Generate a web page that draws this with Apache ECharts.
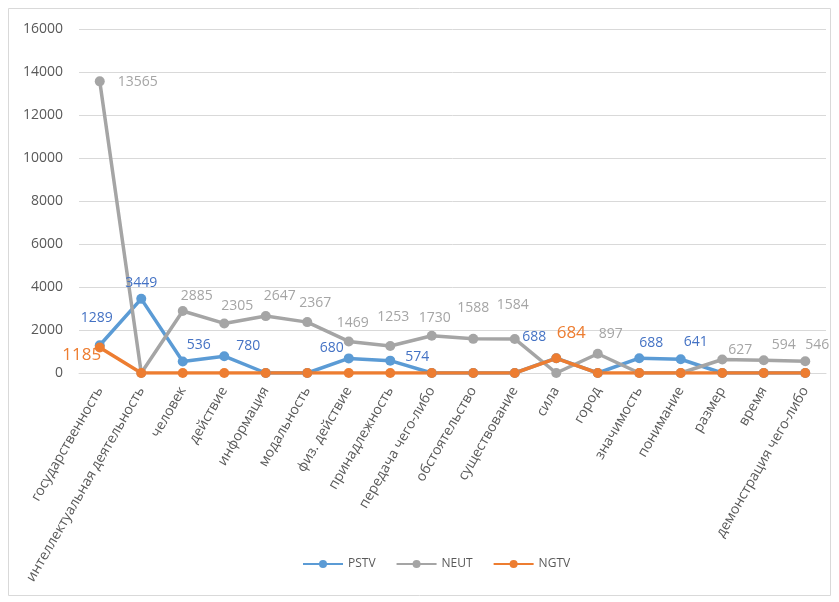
<!DOCTYPE html>
<html><head><meta charset="utf-8">
<script src="https://cdn.jsdelivr.net/npm/echarts@6/dist/echarts.min.js"></script>
<style>html,body{margin:0;padding:0;background:#fff}#c{width:839px;height:602px}</style>
</head><body><div id="c"></div>
<script>
const categories = ['государственность','интеллектуальная деятельность','человек','действие','информация','модальность','физ. действие','принадлежность','передача чего-либо','обстоятельство','существование','сила','город','значимость','понимание','размер','время','демонстрация чего-либо'];
const pstv = [1289, 3449, 536, 780, 0, 0, 680, 574, 0, 0, 0, 688, 0, 688, 641, 0, 0, 0];
const neut = [13565, 0, 2885, 2305, 2647, 2367, 1469, 1253, 1730, 1588, 1584, 0, 897, 0, 0, 627, 594, 546];
const ngtv = [1185, 0, 0, 0, 0, 0, 0, 0, 0, 0, 0, 684, 0, 0, 0, 0, 0, 0];
const seriesNames = ['PSTV', 'NEUT', 'NGTV'];
const yMin = 0, yMax = 16000, yStep = 2000;

// label placement (styling only): offsets from point centre, by index
const labelOffsets = {
  PSTV: {0:[-3,-27],1:[0,-16],2:[16,-16],3:[24,-10],6:[-17,-10],7:[27,-4],11:[-22,-21],13:[12,-15],14:[15,-17]},
  NEUT: {0:[38,1],2:[14,-15],3:[13,-17],4:[14,-20],5:[8,-19],6:[4,-18],7:[3,-29],8:[3,-18],9:[0,-31],10:[-2,-34],12:[13,-20],15:[18,-10],16:[20,-15],17:[12,-16]},
  NGTV: {0:[-18,8],11:[15,-25]}
};
const lineColors = {PSTV:'#5B9BD5', NEUT:'#A5A5A5', NGTV:'#ED7D31'};
const labelColors = {PSTV:'#4472C4', NEUT:'#A5A5A5', NGTV:'#ED7D31'};
const labelSizes = {PSTV:14, NEUT:14, NGTV:17};
const FONT = '"Open Sans", "Liberation Sans", sans-serif';

function buildSeries(name, values) {
  return {
    name, type: 'line', data: values.map((v, i) => {
      const off = labelOffsets[name][i];
      const item = { value: v };
      if (off && v !== 0) {
        item.label = { show: true, position: 'inside', offset: off };
      }
      return item;
    }),
    symbol: 'circle', symbolSize: 10,
    lineStyle: { width: 3.5, color: lineColors[name] },
    itemStyle: { color: lineColors[name] },
    label: { show: false, color: labelColors[name], fontSize: labelSizes[name], fontFamily: FONT,
             formatter: p => p.value === 0 ? '' : String(p.value) },
    emphasis: { disabled: true },
    animation: false
  };
}

const chart = echarts.init(document.getElementById('c'), null, { renderer: 'canvas' });
chart.setOption({
  backgroundColor: '#fff',
  textStyle: { fontFamily: FONT },
  graphic: [{ type: 'rect', shape: { x: 8.5, y: 8.5, width: 822, height: 587 },
              style: { fill: 'none', stroke: '#d9d9d9', lineWidth: 1 }, silent: true }],
  grid: { left: 79, right: 13, top: 29, bottom: 229, containLabel: false, outerBoundsMode: 'none' },
  legend: {
    bottom: 27, left: 297, itemWidth: 40, itemHeight: 10, itemGap: 20,
    textStyle: { color: '#595959', fontSize: 12, fontFamily: FONT },
    data: seriesNames
  },
  xAxis: {
    type: 'category', data: categories, boundaryGap: true,
    axisLine: { lineStyle: { color: '#d9d9d9', width: 1 } },
    axisTick: { show: false },
    axisLabel: { interval: 0, rotate: 60, color: '#595959', fontSize: 14, margin: 15, fontFamily: FONT }
  },
  yAxis: {
    type: 'value', min: yMin, max: yMax, interval: yStep,
    axisLine: { show: false }, axisTick: { show: false },
    splitLine: { lineStyle: { color: '#d9d9d9', width: 1 } },
    axisLabel: { color: '#595959', fontSize: 14, margin: 16, fontFamily: FONT, formatter: v => String(v) }
  },
  series: [buildSeries('PSTV', pstv), buildSeries('NEUT', neut), buildSeries('NGTV', ngtv)]
});
</script></body></html>
